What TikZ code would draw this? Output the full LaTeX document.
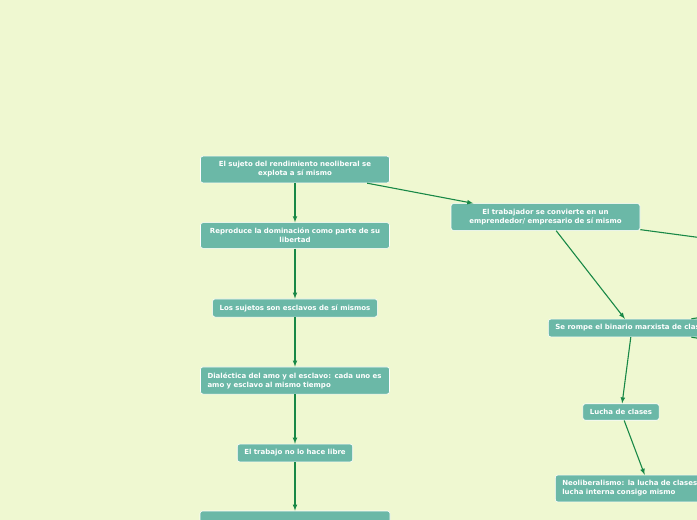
\documentclass[tikz,border=0pt]{standalone}
\usepackage{fontspec}
\setsansfont{DejaVu Sans}
\usepackage{tikz}
\tikzset{>=latex}
\definecolor{fondo}{RGB}{239,248,209}
\definecolor{caja}{RGB}{107,184,167}
\definecolor{flecha}{RGB}{24,136,70}
\tikzset{
  idea/.style={draw=white, fill=caja, rounded corners=2.5pt, line width=0.6pt,
    text=white, font=\sffamily\bfseries\fontsize{7}{9}\selectfont,
    align=center, inner xsep=7pt, inner ysep=5.5pt},
  ancha/.style={idea, text width=175pt},
  anchaizq/.style={ancha, align=left},
  enlace/.style={->, draw=flecha, line width=1.1pt},
}

\begin{document}
\begin{tikzpicture}[x=1pt, y=-1pt]
            \useasboundingbox (0,0) rectangle (697,520);
            \fill[fondo] (0,0) rectangle (697,520);
            \clip (0,0) rectangle (697,520);
            % columna izquierda
            \node[ancha] (sujeto) at (295,169.5){El sujeto del rendimiento neoliberal se\\explota a sí mismo};
            \node[ancha] (domina) at (295,235.5){Reproduce la dominación como parte de su\\libertad};
            \node[idea] (esclavos) at (295,308){Los sujetos son esclavos de sí mismos};
            \node[anchaizq] (dialectica) at (295,380.5){Dialéctica del amo y el esclavo: cada uno es\\amo y esclavo al mismo tiempo};
            \node[idea] (trabajo) at (295,453){El trabajo no lo hace libre};
            \node[idea, minimum width=190pt, minimum height=27pt] (ultima) at (295,524.5){};
            % columna derecha
            \node[ancha] (emprende) at (545.5,217){El trabajador se convierte en un\\emprendedor/ empresario de sí mismo};
            \node[idea, anchor=west] (binario) at (548,328){Se rompe el binario marxista de clases};
            \node[idea] (lucha) at (621,412){Lucha de clases};
            \node[anchaizq, anchor=west] (neolib) at (555,488.5){Neoliberalismo: la lucha de clases\\lucha interna consigo mismo};
            \coordinate (fueraA) at (800,251);
            \coordinate (fueraB) at (800,302);
            \coordinate (fueraC) at (800,354);
            \draw[enlace] (sujeto) -- (domina);
            \draw[enlace] (domina) -- (esclavos);
            \draw[enlace] (esclavos) -- (dialectica);
            \draw[enlace] (dialectica) -- (trabajo);
            \draw[enlace] (trabajo) -- (ultima);
            \draw[enlace] (sujeto) -- (emprende);
            \draw[enlace] (emprende) -- (binario);
            \draw[enlace] (emprende) -- (fueraA);
            \draw[enlace] (binario) -- (lucha);
            \draw[enlace] (lucha) -- (neolib);
            \draw[enlace] (binario) -- (fueraB);
            \draw[enlace] (binario) -- (fueraC);
        \end{tikzpicture}
\end{document}
